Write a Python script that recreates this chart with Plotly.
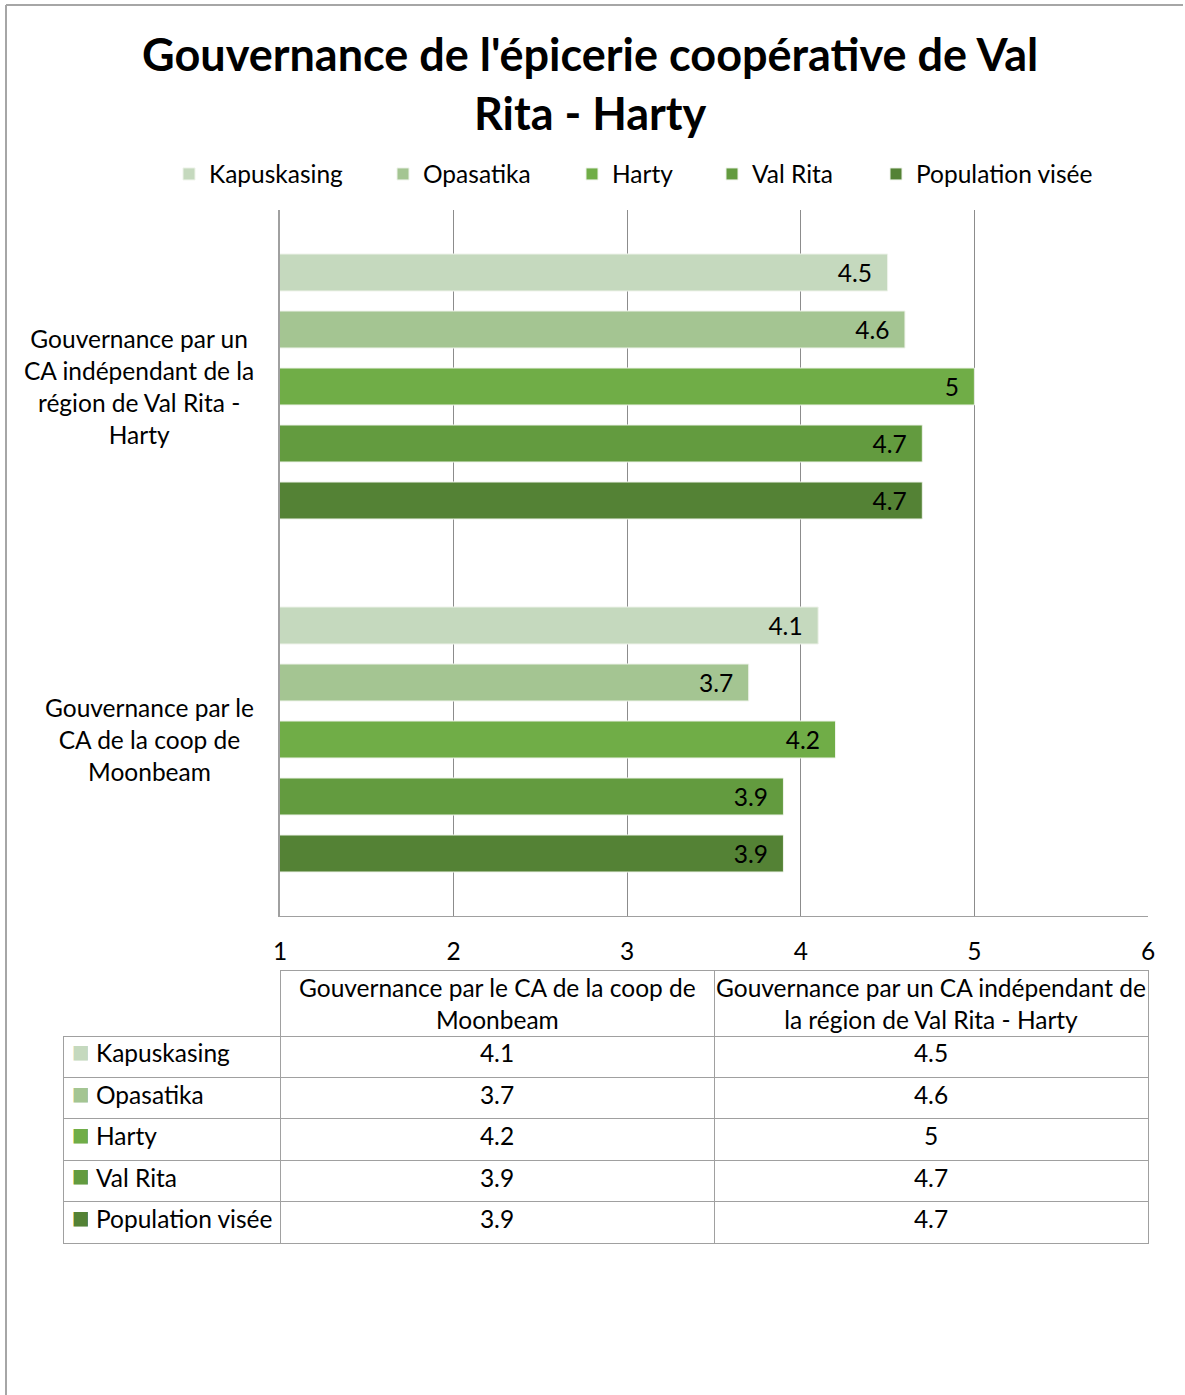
import plotly.graph_objects as go

# ---- data ----
categories = [
    "Gouvernance par le CA de la coop de Moonbeam",
    "Gouvernance par un CA indépendant de la région de Val Rita - Harty",
]
category_labels = [
    "Gouvernance par le<br>CA de la coop de<br>Moonbeam",
    "Gouvernance par un<br>CA indépendant de la<br>région de Val Rita -<br>Harty",
]
table_headers = [
    "Gouvernance par le CA de la coop de<br>Moonbeam",
    "Gouvernance par un CA indépendant de<br>la région de Val Rita - Harty",
]
series_names = ["Kapuskasing", "Opasatika", "Harty", "Val Rita", "Population visée"]
kapuskasing = [4.1, 4.5]
opasatika = [3.7, 4.6]
harty = [4.2, 5]
val_rita = [3.9, 4.7]
population_visee = [3.9, 4.7]
series_values = [kapuskasing, opasatika, harty, val_rita, population_visee]
x_ticks = [1, 2, 3, 4, 5, 6]

colors = ["#C5D9BE", "#A4C592", "#70AD47", "#639B3F", "#548235"]

W, H = 1185, 1395
FONT = "Lato"
FS = 24.5

def px_x(p):
    return p / W

def px_y(p):
    return 1 - p / H

fig = go.Figure()

# legend text start positions (px)
legend_text_x = [211, 425, 614, 754, 918]
# add in reverse so first series sits at top of each group
for i in reversed(range(len(series_names))):
    lname = "legend" if i == 0 else f"legend{i+1}"
    fig.add_trace(go.Bar(
        y=categories, x=series_values[i], orientation="h",
        name=series_names[i],
        marker=dict(color=colors[i], line=dict(color="#EEF3EA", width=1)),
        texttemplate="%{x}\u00a0\u00a0",
        textposition="inside", insidetextanchor="end",
        textfont=dict(family=FONT, size=FS, color="#000000"),
        legend=lname, showlegend=True,
    ))

legend_layout = {}
for i in range(len(series_names)):
    lname = "legend" if i == 0 else f"legend{i+1}"
    legend_layout[lname] = dict(
        x=px_x(legend_text_x[i] - 42), y=px_y(174), xanchor="left", yanchor="middle",
        orientation="h", font=dict(family=FONT, size=FS, color="#000"),
        bgcolor="rgba(0,0,0,0)", itemwidth=30,
    )

fig.update_layout(
    width=W, height=H,
    margin=dict(l=0, r=0, t=0, b=0, autoexpand=False),
    paper_bgcolor="white", plot_bgcolor="white",
    font=dict(family=FONT, color="#000000"),
    showlegend=True,
    barmode="group", bargap=0.1926, bargroupgap=0.351,
    xaxis=dict(
        domain=[px_x(280), px_x(1148)], range=[1, 6], tickvals=x_ticks,
        showgrid=True, gridcolor="#8C8C8C", gridwidth=1,
        showline=True, linecolor="#A0A0A0", linewidth=1,
        zeroline=False, ticks="", ticklabelstandoff=14,
        tickfont=dict(family=FONT, size=FS, color="#000"),
    ),
    yaxis=dict(
        domain=[px_y(916), px_y(210)], type="category",
        categoryorder="array", categoryarray=categories,
        showticklabels=False, showline=True, linecolor="#A0A0A0", linewidth=2,
        showgrid=False, zeroline=False,
    ),
    **legend_layout,
)

# title
fig.add_annotation(
    x=px_x(590), y=px_y(84), xref="paper", yref="paper",
    text="<b>Gouvernance de l'épicerie coopérative de Val<br>Rita - Harty</b>",
    showarrow=False, xanchor="center", yanchor="middle", align="center",
    font=dict(family=FONT, size=45, color="#000000"),
)

# category labels
label_x = [149, 139]
for cat, lab, lx in zip(categories, category_labels, label_x):
    fig.add_annotation(
        x=px_x(lx), xref="paper", y=cat, yref="y", text=lab, showarrow=False,
        xanchor="center", yanchor="middle", align="center",
        font=dict(family=FONT, size=FS, color="#000"),
    )

# data table
tbl_left, tbl_c1, tbl_c2, tbl_right = 63, 280, 714, 1148
tbl_top, hdr_bottom, tbl_bottom = 970, 1036, 1243
row_h = (tbl_bottom - hdr_bottom) / len(series_names)
moon_col = [f"{v[0]:g}" for v in series_values]
indep_col = [f"{v[1]:g}" for v in series_values]
fig.add_trace(go.Table(
    domain=dict(x=[px_x(tbl_left), px_x(tbl_right)], y=[px_y(tbl_bottom + 3), px_y(tbl_top)]),
    columnwidth=[tbl_c1 - tbl_left, tbl_c2 - tbl_c1, tbl_right - tbl_c2],
    header=dict(
        values=["", "", ""],
        height=hdr_bottom - tbl_top,
        line=dict(color=["rgba(0,0,0,0)", "#A0A0A0", "#A0A0A0"], width=[0, 1, 1]),
        fill=dict(color="rgba(0,0,0,0)"),
        font=dict(family=FONT, size=FS, color="#000"),
    ),
    cells=dict(
        values=[[""] * len(series_names), moon_col, indep_col],
        height=row_h, align=["left", "center", "center"],
        line=dict(color="#A0A0A0", width=1),
        fill=dict(color="white"),
        font=dict(family=FONT, size=FS, color="#000"),
    ),
))
# legend keys + series names of the data table (overlay without borders)
key_w = 24
fig.add_trace(go.Table(
    domain=dict(x=[px_x(tbl_left + 1), px_x(tbl_c1)], y=[px_y(tbl_bottom + 3), px_y(tbl_top)]),
    columnwidth=[key_w, tbl_c1 - tbl_left - 1 - key_w],
    header=dict(values=["", ""], height=hdr_bottom - tbl_top,
                line=dict(color="rgba(0,0,0,0)", width=0), fill=dict(color="rgba(0,0,0,0)")),
    cells=dict(
        values=[["■"] * len(series_names), [n.replace(" ", "\u00a0") for n in series_names]],
        height=row_h, align="left",
        line=dict(color="rgba(0,0,0,0)", width=0), fill=dict(color="rgba(0,0,0,0)"),
        font=dict(family=["DejaVu Sans", FONT], size=[19, FS], color=[colors, "#000"]),
    ),
))
# header text (centered lines)
for txt, x0, x1 in zip(table_headers, [tbl_c1, tbl_c2], [tbl_c2, tbl_right]):
    fig.add_annotation(
        x=px_x((x0 + x1) / 2), y=px_y((tbl_top + hdr_bottom) / 2), xref="paper", yref="paper",
        text=txt, showarrow=False, xanchor="center", yanchor="middle", align="center",
        font=dict(family=FONT, size=FS, color="#000"),
    )

# chart area border
fig.add_shape(type="line", xref="paper", yref="paper", x0=px_x(6), x1=px_x(1183),
              y0=px_y(5), y1=px_y(5), line=dict(color="#A6A6A6", width=2))
fig.add_shape(type="line", xref="paper", yref="paper", x0=px_x(6), x1=px_x(6),
              y0=px_y(5), y1=0, line=dict(color="#A6A6A6", width=2))

fig.write_html(
    "out.html",
    config={"displayModeBar": False},
    post_script="document.body.style.margin='0';document.body.style.overflow='hidden';",
)
